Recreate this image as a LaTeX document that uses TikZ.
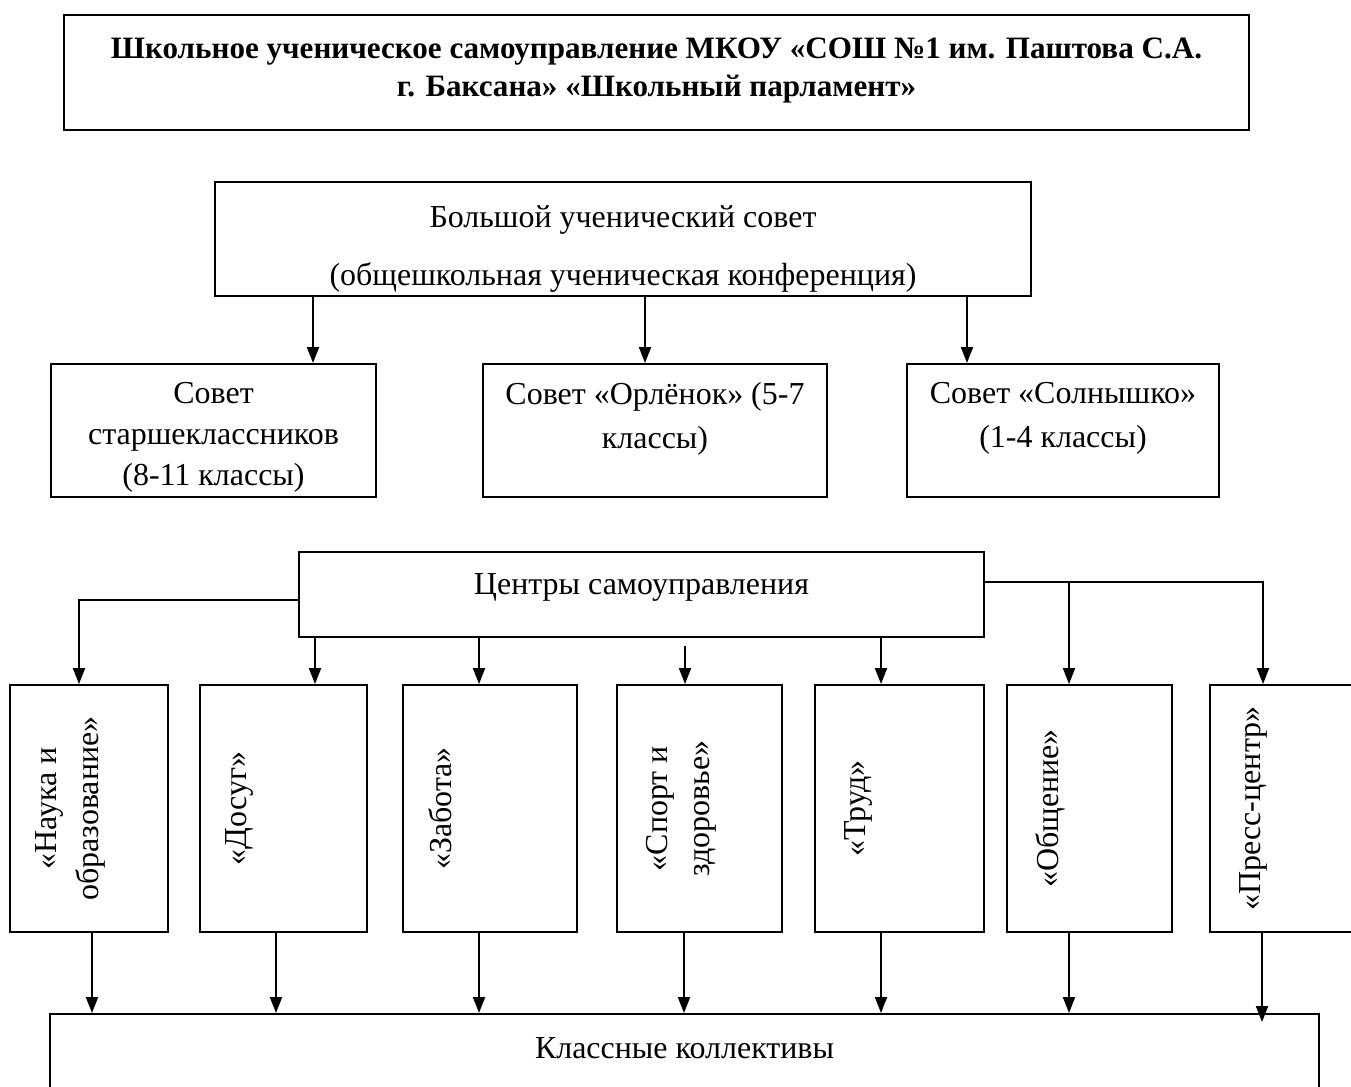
\documentclass[tikz,border=0pt]{standalone}
\usepackage{fontspec}
\setmainfont{Liberation Serif}
\usetikzlibrary{arrows.meta,positioning}

\tikzset{
  blk/.style={draw, line width=1.15pt, inner sep=0pt},
  txt/.style={inner sep=0pt, align=center},
  vtxt/.style={rotate=90, anchor=north, inner sep=0pt, align=center,
    font=\fontsize{18.2}{24}\selectfont},
  arr/.style={-{Triangle[length=0.32cm,width=0.24cm]}, line width=1.15pt}
}

\begin{document}
\begin{tikzpicture}[x=0.02cm,y=-0.02cm,font=\fontsize{18.2}{23.4}\selectfont]
    \useasboundingbox (0,0) rectangle (1351,1086);

    \node[blk, minimum width=23.7cm, minimum height=2.3cm] (title) at (656.5,72.5) {};
    \node[txt, below=0.47cm of title.north, font=\bfseries\fontsize{17.7}{21.6}\selectfont] (titleT)
      {Школьное ученическое самоуправление МКОУ «СОШ №1 им. Паштова С.А.\\г. Баксана» «Школьный парламент»};

    \node[blk, minimum width=16.32cm, minimum height=2.28cm] (council) at (623,239) {};
    \node[txt, below=0.48cm of council.north, font=\fontsize{18.2}{33}\selectfont] (councilT)
      {Большой ученический совет\\(общешкольная ученическая конференция)};

    \node[blk, minimum width=6.5cm, minimum height=2.66cm] (senior) at (213.5,430.5) {};
    \node[txt, below=0.38cm of senior.north] (seniorT) {Совет\\старшеклассников\\(8-11 классы)};
    \node[blk, minimum width=6.88cm, minimum height=2.66cm] (eaglet) at (655,430.5) {};
    \node[txt, below=0.38cm of eaglet.north, font=\fontsize{18.2}{25}\selectfont] (eagletT) {Совет «Орлёнок» (5-7\\классы)};
    \node[blk, minimum width=6.24cm, minimum height=2.66cm] (sunny) at (1063,430.5) {};
    \node[txt, below=0.38cm of sunny.north, font=\fontsize{18.2}{25}\selectfont] (sunnyT) {Совет «Солнышко»\\(1-4 классы)};

    \draw[arr] (313,0 |- council.south) -- (313,0 |- senior.north);
    \draw[arr] (645,0 |- council.south) -- (645,0 |- eaglet.north);
    \draw[arr] (967,0 |- council.south) -- (967,0 |- sunny.north);

    \node[blk, minimum width=13.7cm, minimum height=1.7cm] (centers) at (641.5,594.5) {};
    \node[txt, below=0.44cm of centers.north] (centersT) {Центры самоуправления};

    \node[blk, minimum width=3.16cm, minimum height=4.94cm] (science) at (89,808.5) {};
    \node[blk, minimum width=3.34cm, minimum height=4.94cm] (leisure) at (283.5,808.5) {};
    \node[blk, minimum width=3.48cm, minimum height=4.94cm] (care) at (490,808.5) {};
    \node[blk, minimum width=3.3cm, minimum height=4.94cm] (sport) at (699.5,808.5) {};
    \node[blk, minimum width=3.38cm, minimum height=4.94cm] (labour) at (899.5,808.5) {};
    \node[blk, minimum width=3.3cm, minimum height=4.94cm] (talk) at (1089.5,808.5) {};
    \node[blk, minimum width=3.4cm, minimum height=4.94cm] (press) at (1295,808.5) {};

    \node[vtxt] (scienceT) at ([xshift=0.52cm]science.west) {«Наука и\\образование»};
    \node[vtxt] (leisureT) at ([xshift=0.52cm]leisure.west) {«Досуг»};
    \node[vtxt] (careT) at ([xshift=0.52cm]care.west) {«Забота»};
    \node[vtxt] (sportT) at ([xshift=0.6cm]sport.west) {«Спорт и\\здоровье»};
    \node[vtxt] (labourT) at ([xshift=0.6cm]labour.west) {«Труд»};
    \node[vtxt] (talkT) at ([xshift=0.58cm]talk.west) {«Общение»};
    \node[vtxt] (pressT) at ([xshift=0.6cm]press.west) {«Пресс-центр»};

    \draw[arr] (centers.west |- 0,600) -| (79,0 |- science.north);
    \draw[arr] (315,0 |- centers.south) -- (315,0 |- leisure.north);
    \draw[arr] (479,0 |- centers.south) -- (479,0 |- care.north);
    \coordinate (gap) at (685,646);
    \draw[arr] (gap) -- (gap |- sport.north);
    \draw[arr] (881,0 |- centers.south) -- (881,0 |- labour.north);
    \draw[arr] (centers.east |- 0,582) -| (1263,0 |- press.north);
    \coordinate (split) at (1069,582);
    \draw[arr] (split) -- (split |- talk.north);

    \node[blk, minimum width=25.38cm, minimum height=1.92cm] (classes) at (684.5,1062) {};
    \node[txt, below=0.48cm of classes.north] (classesT) {Классные коллективы};

    \draw[arr] (92,0 |- science.south) -- (92,0 |- classes.north);
    \draw[arr] (276,0 |- leisure.south) -- (276,0 |- classes.north);
    \draw[arr] (479,0 |- care.south) -- (479,0 |- classes.north);
    \draw[arr] (684,0 |- sport.south) -- (684,0 |- classes.north);
    \draw[arr] (881,0 |- labour.south) -- (881,0 |- classes.north);
    \draw[arr] (1069,0 |- talk.south) -- (1069,0 |- classes.north);
    \draw[arr] (1262,0 |- press.south) -- ([yshift=-0.18cm]1262,0 |- classes.north);
\end{tikzpicture}
\end{document}
